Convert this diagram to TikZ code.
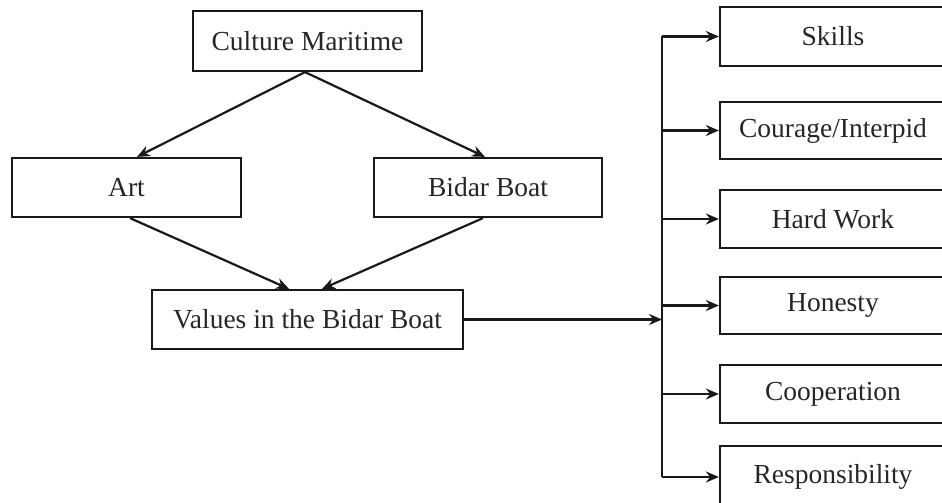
\documentclass[tikz,border=0pt]{standalone}
\usepackage{fontspec}
\setmainfont{Liberation Serif}
\usetikzlibrary{arrows.meta,calc}
\begin{document}
\begin{tikzpicture}[x=1pt,y=-1pt,
  box/.style={draw=black!90,line width=2.2pt,fill=white,inner sep=0pt,
    font=\fontsize{27.5}{32}\selectfont,text=black!85},
  arr/.style={line width=2.2pt,draw=black!90,-{Stealth[length=13pt,width=11pt]}},
  ln/.style={line width=2.2pt,draw=black!90}]
\useasboundingbox (0,0) rectangle (942,503);
\node[box,minimum width=229pt,minimum height=60pt] (cm) at (307.5,41) {Culture Maritime};
\node[box,minimum width=229pt,minimum height=59pt] (art) at (126.5,187.5) {Art};
\node[box,minimum width=228pt,minimum height=59pt] (bb) at (488,187.5) {Bidar Boat};
\node[box,minimum width=311pt,minimum height=59pt] (val) at (307.5,319.5) {Values in the Bidar Boat};
\node[box,minimum width=226pt,minimum height=59pt] (s1) at (833,36.5) {Skills};
\node[box,minimum width=226pt,minimum height=57pt] (s2) at (833,130.5) {Courage/Interpid};
\node[box,minimum width=226pt,minimum height=58pt] (s3) at (833,219) {Hard Work};
\node[box,minimum width=226pt,minimum height=57pt] (s4) at (833,305.5) {Honesty};
\node[box,minimum width=226pt,minimum height=58pt] (s5) at (833,394) {Cooperation};
\node[box,minimum width=226pt,minimum height=62pt] (s6) at (833,477) {Responsibility};
\coordinate (bus) at (662,319.5);
\draw[arr] ([xshift=-2.5pt]cm.south) -- ([xshift=10.5pt]art.north);
\draw[arr] ([xshift=-2.5pt]cm.south) -- ([xshift=-3pt]bb.north);
\draw[arr] ([xshift=3.5pt]art.south) -- ([xshift=-18.5pt]val.north);
\draw[arr] ([xshift=-5pt]bb.south) -- ([xshift=14.5pt]val.north);
\draw[arr] (val.east) -- (bus);
\draw[ln] (bus |- s1.west) -- (bus |- s6.west);
\foreach \n in {s1,s2,s3,s4,s5,s6}{
  \draw[arr] (bus |- \n.west) -- (\n.west);
}
\end{tikzpicture}
\end{document}
